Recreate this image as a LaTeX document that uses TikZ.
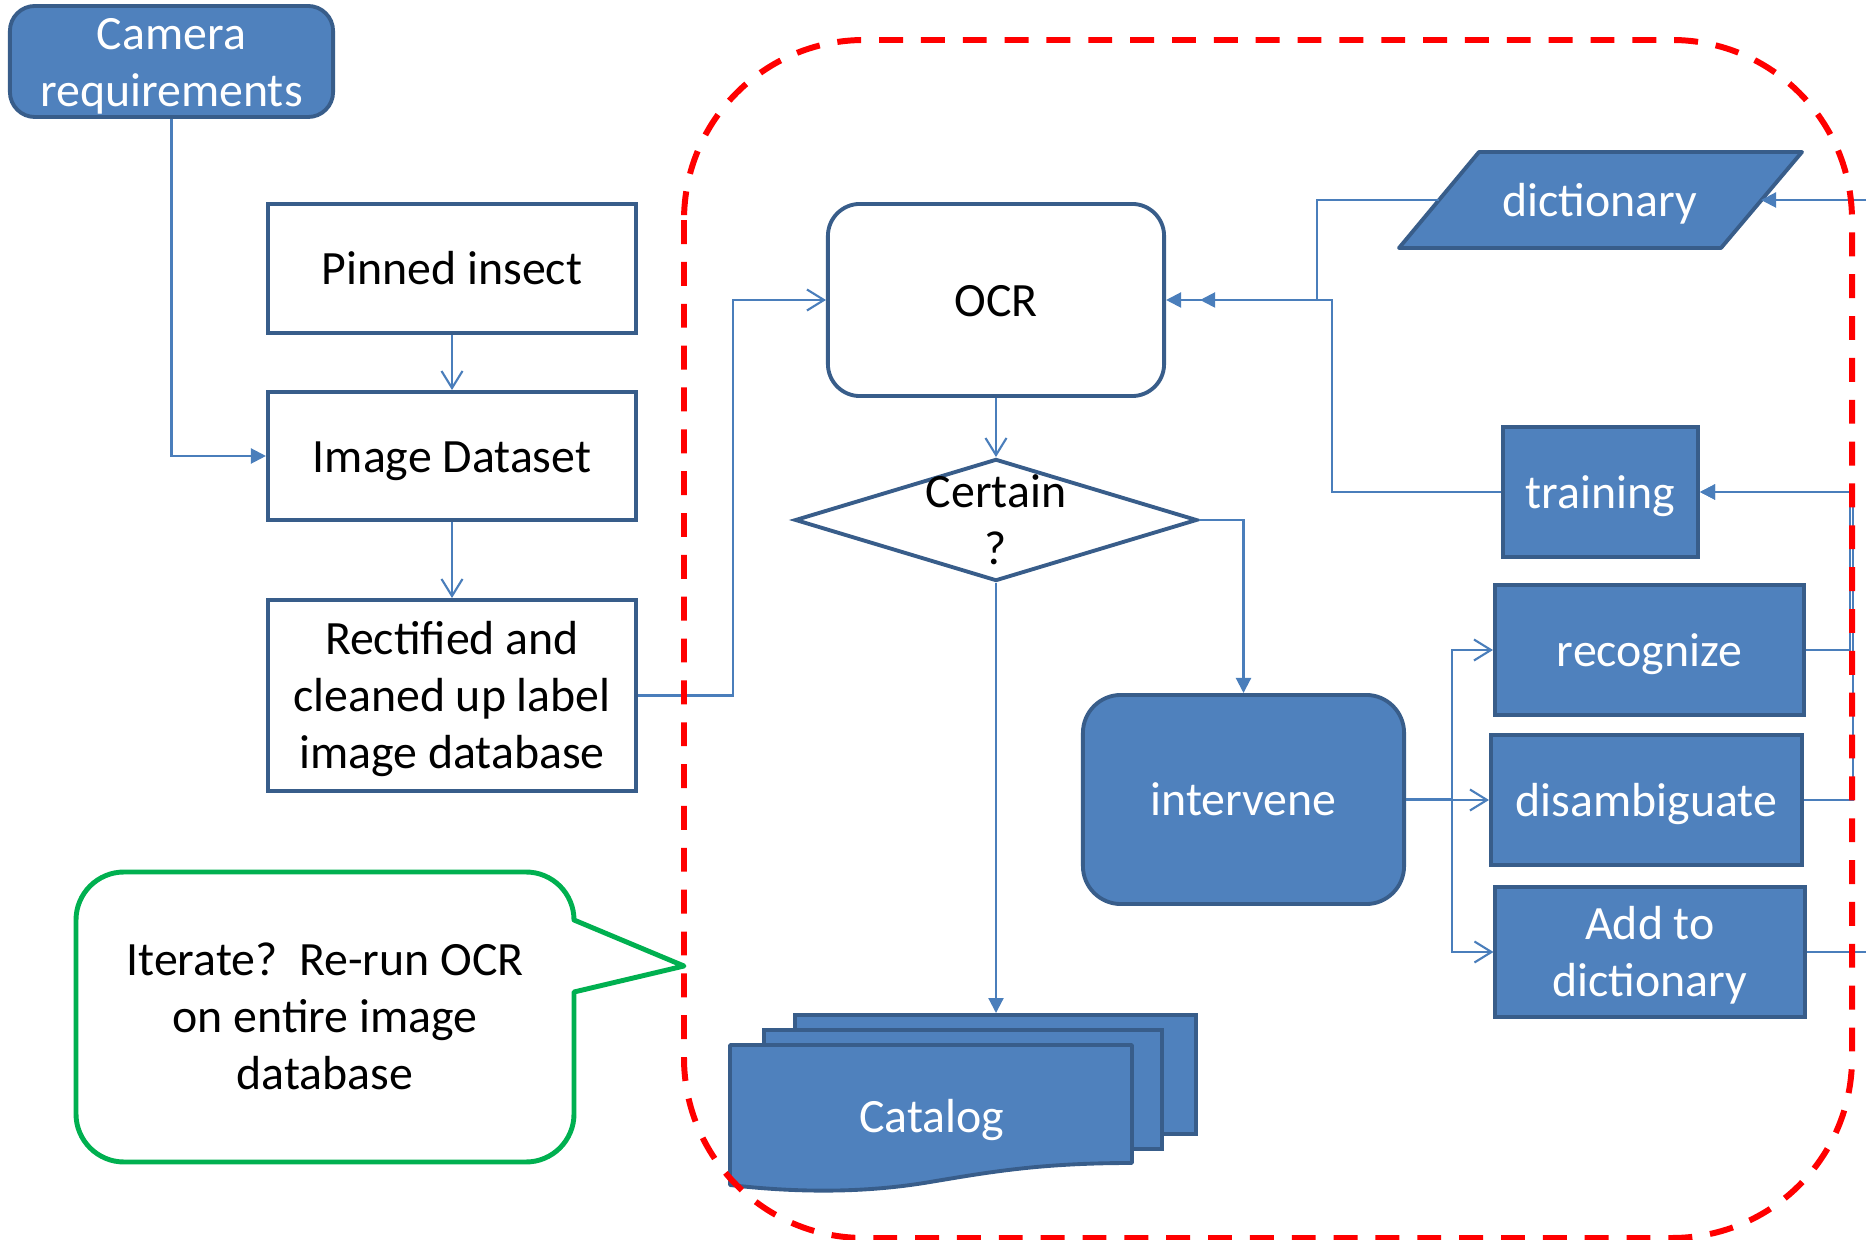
\documentclass[tikz,border=0pt]{standalone}
\usepackage{fontspec}
\setmainfont{Carlito}
\usepackage{xcolor}
\usetikzlibrary{arrows.meta,shapes.geometric,positioning}

\definecolor{boxfill}{HTML}{4F81BD}
\definecolor{boxline}{HTML}{385D8A}
\definecolor{connblue}{HTML}{4A7EBB}
\definecolor{notegreen}{HTML}{00B050}

\begin{document}
\begin{tikzpicture}[x=0.01cm,y=-0.01cm,
    font=\fontsize{13.6}{16.2}\selectfont,
    oneline/.style={text height=9.5pt,text depth=0.3pt},
    twoline/.style={text height=25.7pt,text depth=0.3pt},
    threeline/.style={text height=41.9pt,text depth=0.3pt},
    whitebox/.style={draw=boxline,line width=1.1pt,fill=white,align=center,inner sep=0pt,minimum width=3.68cm,oneline},
    bluebox/.style={whitebox,fill=boxfill,text=white},
    conn/.style={draw=connblue,line width=0.6pt},
    openarr/.style={conn,-{Straight Barb[length=0.17cm,width=0.21cm]}},
    fullarr/.style={conn,-{Triangle[length=0.15cm,width=0.15cm]}}]
        % page is 1866 x 1240 px, 1 px = 0.01cm
        \clip (0,0) rectangle (1866,1240);
        % left column
        \node[bluebox,twoline,rounded corners=0.25cm,minimum width=3.23cm,minimum height=1.11cm] (cam) at (171.5,61.5) {Camera\\requirements};
        \node[whitebox,minimum height=1.29cm] (pin) at (452,268.5) {Pinned insect};
        \node[whitebox,minimum height=1.28cm] (img) at (452,456) {Image Dataset};
        \node[whitebox,threeline,minimum height=1.91cm] (rect) at (452,695.5) {Rectified and\\cleaned up label\\image database};
        % OCR and decision
        \node[whitebox,rounded corners=0.32cm,minimum width=3.36cm,minimum height=1.92cm] (ocr) at (996,300) {OCR};
        \node[diamond,draw=boxline,line width=1.1pt,fill=white,inner sep=0pt,minimum width=4.02cm,minimum height=1.22cm] (cert) at (996,520) {};
        \node[align=center,twoline] (certtxt) at (cert) {Certain\\?};
        \node[bluebox,rounded corners=0.38cm,minimum width=3.21cm,minimum height=2.09cm] (intv) at (1243.5,799.5) {intervene};
        % right column, dictionary is a parallelogram
        \filldraw[draw=boxline,fill=boxfill,line width=1.1pt,line join=round]
          (1399,248) -- (1479,152) -- (1802,152) -- (1721,248) -- cycle;
        \coordinate (dictw) at (1439,200);
        \coordinate (dicte) at (1761,200);
        \node[text=white,oneline] (dict) at (1600,200) {dictionary};
        \node[bluebox,minimum width=1.95cm,minimum height=1.3cm] (trn) at (1600.5,492) {training};
        \node[bluebox,minimum width=3.09cm,minimum height=1.3cm] (rec) at (1649.5,650) {recognize};
        \node[bluebox,minimum width=3.11cm,minimum height=1.3cm] (dis) at (1646.5,800) {disambiguate};
        \node[bluebox,twoline,minimum width=3.09cm,minimum height=1.3cm] (add) at (1650,952) {Add to\\dictionary};
        % catalog: three stacked documents
        \node[bluebox,minimum width=4.01cm,minimum height=1.19cm] (cat3) at (995.5,1074.5) {};
        \node[bluebox,minimum width=3.98cm,minimum height=1.19cm] (cat2) at (963,1089.5) {};
        \filldraw[draw=boxline,fill=boxfill,line width=1.1pt,line join=round]
          (730,1045) -- (1132,1045) -- (1132,1163)
          .. controls (1040,1163) and (990,1172) .. (930,1182)
          .. controls (860,1194) and (790,1192) .. (730,1185) -- cycle;
        \node[text=white,oneline] (cat) at (932,1116) {Catalog};
        % connectors
        \draw[openarr] (pin) -- (img);
        \draw[openarr] (img) -- (rect);
        \draw[fullarr] (cam.south) |- (img.west);
        \draw[openarr] (rect.east) -- ++(95,0) |- (ocr.west);
        \draw[openarr] (ocr) -- (cert);
        \draw[fullarr] (cert.south) -- (cert.south |- cat3.north);
        \draw[fullarr] (cert.east) -| (intv.north);
        \draw[openarr] (intv.east) -- ++(46,0) |- (rec.west);
        \draw[openarr] (intv.east) -- ++(46,0) |- (dis.west);
        \draw[openarr] (intv.east) -- ++(46,0) |- (add.west);
        \draw[fullarr] (rec.east) -- ++(44,0) |- (trn.east);
        \draw[fullarr] (dis.east) -- ++(49,0) |- (trn.east);
        \draw[fullarr] (trn.west) -- ++(-169,0) |- (ocr.east);
        \draw[fullarr,shorten >=0.34cm] (dictw) -- ++(-122,0) |- (ocr.east);
        \draw[fullarr] (add.east) -- ++(100,0) |- (dicte);
        % dashed loop boundary
        \draw[red,line width=1.7pt,dash pattern=on 6.8pt off 5.1pt,rounded corners=1.8cm] (684,40) rectangle (1852,1238);
        % callout
        \filldraw[draw=notegreen,fill=white,line width=1.4pt,line join=round]
          (574,992) -- (684,966) -- (574,920) [rounded corners=0.48cm] -- (574,872) -- (76,872)
          -- (76,1162) -- (574,1162) [sharp corners] -- cycle;
        \node[align=center,threeline] (note) at (325,1016) {Iterate?~~Re-run OCR\\on entire image\\database};
\end{tikzpicture}
\end{document}
